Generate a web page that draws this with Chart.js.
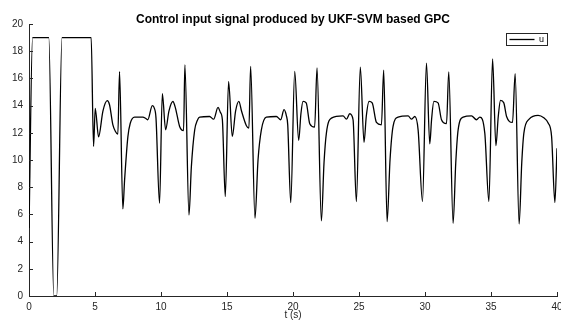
<!DOCTYPE html>
<html>
<head>
<meta charset="utf-8">
<script src="https://cdn.jsdelivr.net/npm/chart.js@4.4.1/dist/chart.umd.min.js"></script>
<style>
  html, body { margin: 0; padding: 0; background: #fff; }
  #wrap { width: 561px; height: 320px; position: relative; }
</style>
</head>
<body>
<div id="wrap"><canvas id="chart"></canvas></div>
<script>
// values
const timeS = [
  0, 0.27, 1.5, 1.88, 2.1, 2.5, 4.71, 4.89,
  5.02, 5.27, 5.6, 5.93, 6.1, 6.35, 6.55, 6.73, 6.86, 7.11, 7.24, 7.49, 7.67, 8.0, 8.63, 8.85, 9.0, 9.34, 9.5, 9.62, 9.89,
  10.1, 10.35, 10.6, 10.9, 11.1, 11.41, 11.71, 11.81, 12.12, 12.3, 12.55, 12.75, 12.93, 13.68, 13.99, 14.32, 14.5, 14.65, 14.87,
  15.12, 15.4, 15.65, 15.9, 16.1, 16.47, 16.66, 16.79, 17.12, 17.35, 17.6, 17.98, 18.74, 19.07, 19.32, 19.5, 19.6, 19.83,
  20.13, 20.43, 20.6, 20.76, 21.0, 21.27, 21.64, 21.82, 22.15, 22.35, 22.53, 22.91, 23.79, 24.05, 24.3, 24.55, 24.8,
  25.1, 25.38, 25.55, 25.76, 26.0, 26.32, 26.7, 26.87, 27.13, 27.35, 27.58, 27.96, 28.72, 28.97, 29.23, 29.48, 29.81,
  30.11, 30.36, 30.5, 30.67, 30.99, 31.25, 31.63, 31.8, 32.13, 32.33, 32.51, 32.89, 33.52, 33.9, 34.15, 34.53, 34.84,
  35.12, 35.37, 35.55, 35.72, 35.97, 36.18, 36.63, 36.83, 37.13, 37.33, 37.49, 37.89, 38.57, 39.0, 39.33, 39.59, 39.84, 40.0
];
const controlU = [
  5, 19, 19, 0, 0, 19, 19, 11.0,
  13.8, 11.7, 13.6, 14.36, 14.06, 12.6, 12.1, 11.9, 16.5, 6.4, 8.5, 11.7, 12.7, 13.15, 13.15, 13.05, 12.96, 14.0, 13.8, 13.1, 6.82,
  14.87, 12.22, 13.6, 14.3, 13.8, 12.47, 12.17, 17.0, 5.96, 9.5, 12.2, 12.9, 13.15, 13.2, 13.0, 13.87, 13.5, 12.96, 7.31,
  15.78, 11.73, 13.6, 14.31, 13.6, 12.52, 12.35, 16.89, 5.72, 10.0, 12.2, 13.15, 13.2, 12.96, 13.7, 13.25, 12.6, 6.87,
  16.52, 11.44, 13.4, 14.31, 14.2, 12.67, 12.42, 16.77, 5.52, 9.8, 11.98, 13.08, 13.25, 13.0, 13.4, 12.96, 6.95,
  16.82, 11.29, 13.2, 14.31, 14.2, 12.76, 12.59, 16.6, 5.47, 10.0, 12.47, 13.15, 13.25, 13.0, 13.2, 12.2, 6.95,
  17.13, 11.19, 13.0, 14.31, 14.2, 12.96, 12.67, 16.47, 5.35, 9.8, 12.22, 13.15, 13.25, 12.96, 13.15, 11.98, 6.95,
  17.43, 11.05, 13.2, 14.38, 14.2, 13.2, 12.76, 16.35, 5.3, 9.8, 11.98, 13.0, 13.28, 13.1, 12.72, 11.73, 6.87, 10.87
];
const xTickValues = [0, 5, 10, 15, 20, 25, 30, 35, 40];
const yTickValues = [0, 2, 4, 6, 8, 10, 12, 14, 16, 18, 20];

const axisColor = '#262626';
const fontFamily = '"Liberation Sans", Arial, Helvetica, sans-serif';

// MATLAB-style inward ticks, plus a framed legend sitting inside the axes
const matlabDecor = {
  id: 'matlabDecor',
  beforeLayout(chart) {
    const lg = chart.legend;
    if (lg && !lg._floating) {
      const fit = lg.fit.bind(lg);
      lg.fit = function () {
        fit();
        this._realHeight = this.height;
        this.height = 0; // take no room in the layout
      };
      lg._floating = true;
    }
  },
  afterLayout(chart) {
    const lg = chart.legend;
    const dx = (chart.chartArea.right - 11) - lg.right;
    lg.left += dx; lg.right += dx;
    lg.top = chart.chartArea.top + 9;
    lg.bottom = lg.top + (lg._realHeight || 0);
  },
  afterDraw(chart) {
    const { ctx, chartArea, scales: { x, y } } = chart;
    ctx.save();
    ctx.strokeStyle = axisColor;
    ctx.lineWidth = 1;
    ctx.beginPath();
    xTickValues.forEach(v => {
      const px = Math.round(x.getPixelForValue(v)) + 0.5;
      ctx.moveTo(px, chartArea.bottom);
      ctx.lineTo(px, chartArea.bottom - 4);
    });
    yTickValues.forEach(v => {
      const py = Math.round(y.getPixelForValue(v)) + 0.5;
      ctx.moveTo(chartArea.left, py);
      ctx.lineTo(chartArea.left + 4, py);
    });
    ctx.stroke();

    const hb = chart.legend.legendHitBoxes[0];
    if (hb) {
      ctx.strokeRect(Math.round(hb.left - 3) + 0.5, Math.round(hb.top - 2) + 0.5,
                     Math.round(hb.width + 6), Math.round(hb.height + 3));
    }
    ctx.restore();
  }
};

const points = timeS.map((t, i) => ({ x: t, y: controlU[i] }));

new Chart(document.getElementById('chart'), {
  type: 'line',
  data: {
    datasets: [{
      label: 'u',
      data: points,
      borderColor: '#000',
      backgroundColor: '#000',
      borderWidth: 1.3,
      pointRadius: 0,
      cubicInterpolationMode: 'monotone',
      fill: false
    }]
  },
  options: {
    responsive: true,
    maintainAspectRatio: false,
    animation: false,
    events: [],
    layout: { padding: { left: 0, right: 4, top: 0, bottom: 0 } },
    plugins: {
      title: {
        display: true,
        fullSize: false,
        text: 'Control input signal produced by UKF-SVM based GPC',
        color: '#000',
        font: { family: fontFamily, size: 12, weight: 'bold', lineHeight: 0.75 },
        padding: { top: 15, bottom: 0 }
      },
      legend: {
        display: true,
        position: 'top',
        align: 'end',
        labels: {
          color: '#000',
          font: { family: fontFamily, size: 9 },
          usePointStyle: true,
          pointStyle: 'line',
          pointStyleWidth: 25,
          padding: 2,
          boxHeight: 9
        }
      },
      tooltip: { enabled: false }
    },
    scales: {
      x: {
        type: 'linear',
        min: 0,
        max: 40,
        afterBuildTicks: s => { s.ticks = xTickValues.map(v => ({ value: v })); },
        afterFit: s => { s.height = 24; s.paddingLeft = 0; s.paddingRight = 0; },
        grid: { display: true, drawOnChartArea: false, drawTicks: false },
        border: { display: true, color: axisColor, width: 1 },
        ticks: { color: axisColor, font: { family: fontFamily, size: 10 }, padding: 5, maxRotation: 0 },
        title: {
          display: true,
          text: 't (s)',
          color: axisColor,
          font: { family: fontFamily, size: 10, lineHeight: 1.0 },
          padding: { top: 0, bottom: 0 }
        }
      },
      y: {
        type: 'linear',
        min: 0,
        max: 20,
        afterBuildTicks: s => { s.ticks = yTickValues.map(v => ({ value: v })); },
        afterFit: s => { s.width = 29; s.paddingTop = 0; s.paddingBottom = 0; },
        grid: { display: true, drawOnChartArea: false, drawTicks: false },
        border: { display: true, color: axisColor, width: 1 },
        ticks: { color: axisColor, font: { family: fontFamily, size: 10 }, padding: 6 }
      }
    }
  },
  plugins: [matlabDecor]
});
</script>
</body>
</html>
